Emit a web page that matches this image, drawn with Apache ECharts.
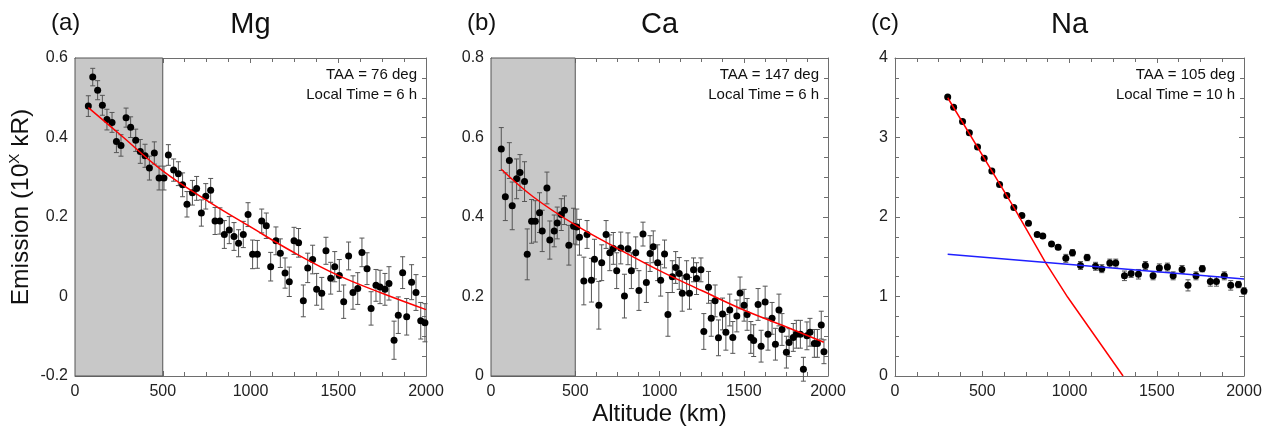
<!DOCTYPE html>
<html><head><meta charset="utf-8">
<script src="https://cdn.jsdelivr.net/npm/echarts@6/dist/echarts.min.js"></script>
<style>html,body{margin:0;padding:0;background:#fff}#c{width:1273px;height:430px}</style>
</head><body><div id="c"></div>
<script>
// ---- data ----
const xTicks = [0, 500, 1000, 1500, 2000];
// (a) Mg
const xA = [76,101,129,156,182,211,236,262,291,317,346,372,399,424,452,479,507,532,562,589,613,638,669,693,720,745,773,798,826,851,879,906,932,959,986,1012,1039,1064,1090,1115,1145,1170,1197,1221,1248,1274,1301,1326,1354,1377,1406,1430,1457,1480,1506,1531,1559,1584,1611,1635,1664,1687,1715,1738,1766,1789,1818,1842,1867,1890,1918,1943,1970,1994];
const yA = [0.479,0.552,0.519,0.481,0.445,0.438,0.390,0.380,0.450,0.426,0.393,0.365,0.354,0.323,0.361,0.298,0.298,0.356,0.318,0.309,0.281,0.232,0.261,0.272,0.210,0.252,0.267,0.190,0.190,0.156,0.167,0.151,0.134,0.156,0.206,0.106,0.106,0.190,0.178,0.075,0.140,0.109,0.059,0.037,0.140,0.135,-0.011,0.072,0.093,0.018,0.008,0.115,0.046,0.075,0.053,-0.013,0.102,0.010,0.020,0.111,0.070,-0.030,0.028,0.024,0.018,0.033,-0.110,-0.047,0.060,-0.051,0.036,0.010,-0.061,-0.066];
const eA = [0.026,0.022,0.024,0.025,0.026,0.025,0.028,0.027,0.024,0.026,0.028,0.030,0.029,0.030,0.028,0.030,0.030,0.026,0.028,0.030,0.030,0.032,0.031,0.030,0.033,0.032,0.030,0.034,0.033,0.035,0.034,0.035,0.034,0.033,0.030,0.036,0.035,0.030,0.032,0.036,0.035,0.036,0.038,0.037,0.034,0.036,0.040,0.037,0.036,0.040,0.040,0.034,0.040,0.038,0.040,0.042,0.035,0.042,0.040,0.036,0.040,0.042,0.040,0.042,0.040,0.042,0.048,0.046,0.040,0.046,0.044,0.045,0.046,0.048];
const fitAx = [76,250,500,750,1000,1250,1500,1750,2000];
const fitAy = [0.475,0.410,0.316,0.242,0.175,0.110,0.053,0.008,-0.033];
// (b) Ca
const xB = [61,85,109,126,152,172,199,215,241,263,288,304,332,349,375,393,417,436,462,490,509,525,551,570,596,614,640,657,683,705,726,746,770,792,813,833,859,878,902,922,944,963,989,1007,1030,1050,1076,1096,1117,1135,1161,1178,1202,1220,1246,1263,1291,1307,1330,1350,1374,1394,1417,1435,1459,1478,1502,1520,1542,1559,1585,1603,1627,1644,1668,1688,1709,1727,1753,1769,1794,1812,1836,1854,1875,1893,1919,1937,1960,1976];
const yB = [0.571,0.451,0.542,0.428,0.496,0.512,0.489,0.306,0.389,0.389,0.411,0.365,0.473,0.342,0.365,0.385,0.406,0.417,0.329,0.377,0.375,0.349,0.239,0.356,0.241,0.294,0.178,0.285,0.356,0.310,0.321,0.265,0.322,0.201,0.320,0.265,0.310,0.215,0.357,0.235,0.308,0.325,0.285,0.241,0.307,0.155,0.250,0.273,0.258,0.208,0.250,0.208,0.267,0.245,0.267,0.112,0.223,0.145,0.189,0.096,0.156,0.110,0.166,0.097,0.151,0.209,0.178,0.155,0.097,0.089,0.180,0.075,0.186,0.105,0.145,0.080,0.166,0.117,0.060,0.084,0.097,0.105,0.105,0.017,0.101,0.110,0.082,0.082,0.128,0.061];
const eB = [0.054,0.060,0.045,0.060,0.050,0.045,0.050,0.064,0.055,0.052,0.050,0.052,0.040,0.048,0.040,0.040,0.040,0.036,0.050,0.045,0.045,0.045,0.060,0.035,0.055,0.050,0.060,0.045,0.035,0.045,0.040,0.045,0.040,0.055,0.040,0.045,0.040,0.050,0.030,0.050,0.045,0.040,0.045,0.040,0.035,0.055,0.040,0.040,0.040,0.045,0.040,0.040,0.030,0.040,0.030,0.045,0.040,0.045,0.040,0.045,0.040,0.045,0.040,0.040,0.040,0.040,0.040,0.040,0.040,0.040,0.040,0.040,0.040,0.040,0.040,0.040,0.040,0.040,0.040,0.035,0.035,0.035,0.035,0.030,0.035,0.035,0.035,0.035,0.035,0.030];
const fitBx = [61,250,500,750,1000,1250,1500,1750,1975];
const fitBy = [0.520,0.451,0.380,0.321,0.265,0.215,0.166,0.124,0.085];
// (c) Na
const xC = [302,336,387,426,473,511,555,599,641,681,727,765,815,847,897,935,979,1017,1063,1101,1149,1185,1231,1265,1315,1353,1395,1435,1479,1515,1561,1594,1645,1679,1725,1761,1807,1842,1887,1924,1968,2000];
const yC = [3.51,3.38,3.20,3.06,2.88,2.74,2.58,2.41,2.27,2.12,2.02,1.92,1.78,1.76,1.66,1.62,1.48,1.55,1.39,1.49,1.38,1.35,1.42,1.42,1.26,1.29,1.28,1.39,1.26,1.36,1.37,1.26,1.34,1.14,1.26,1.35,1.19,1.19,1.26,1.14,1.15,1.07];
const eC = [0.02,0.02,0.02,0.02,0.02,0.02,0.02,0.02,0.02,0.02,0.02,0.02,0.02,0.02,0.02,0.03,0.05,0.04,0.05,0.04,0.05,0.05,0.05,0.05,0.06,0.05,0.06,0.05,0.05,0.05,0.05,0.05,0.05,0.07,0.05,0.04,0.06,0.06,0.05,0.06,0.04,0.04];
const fitCx = [302,681,862,990,1307];
const fitCy = [3.50,2.12,1.43,0.99,0];
const blueCx = [302,2000];
const blueCy = [1.53,1.22];

const panels = [
  {label:'(a)', title:'Mg', taa:'TAA = 76 deg', lt:'Local Time = 6 h', left:75, width:351, ymin:-0.2, ymax:0.6, yint:0.2,
   x:xA, y:yA, e:eA, fits:[{x:fitAx,y:fitAy,c:'#ff0000',smooth:0.4}], shade:true},
  {label:'(b)', title:'Ca', taa:'TAA = 147 deg', lt:'Local Time = 6 h', left:491, width:337, ymin:0, ymax:0.8, yint:0.2,
   x:xB, y:yB, e:eB, fits:[{x:fitBx,y:fitBy,c:'#ff0000',smooth:0.4}], shade:true},
  {label:'(c)', title:'Na', taa:'TAA = 105 deg', lt:'Local Time = 10 h', left:895, width:349, ymin:0, ymax:4, yint:1,
   x:xC, y:yC, e:eC, fits:[{x:fitCx,y:fitCy,c:'#ff0000',smooth:false},{x:blueCx,y:blueCy,c:'#1f1fff',smooth:false}], shade:false}
];

const FONT = "'Liberation Sans', Arial, sans-serif";
const TOP = 58, H = 318;
const frame = '#6e6e6e';
const grid = [], xAxis = [], yAxis = [], series = [], graphic = [];

function fmt(v){ return String(Math.round(v*1000)/1000); }
function tickCfg(show){ return {
  axisLine:{show:true, onZero:false, lineStyle:{color:frame, width:1}},
  axisTick:{show:true, inside:true, length:5, lineStyle:{color:frame}},
  minorTick:{show:true, splitNumber:4, length:4, lineStyle:{color:frame}},
  splitLine:{show:false}, minorSplitLine:{show:false},
  axisLabel:{show:show, color:'#222', fontSize:16, fontFamily:FONT, margin:8, formatter:fmt}
};}

function errRender(params, api){
  const x = api.value(0), lo = api.value(1), hi = api.value(2);
  const p1 = api.coord([x, lo]), p2 = api.coord([x, hi]);
  const w = 2.5, st = {stroke:'#555', lineWidth:1};
  return {type:'group', children:[
    {type:'line', shape:{x1:p1[0],y1:p1[1],x2:p2[0],y2:p2[1]}, style:st},
    {type:'line', shape:{x1:p1[0]-w,y1:p1[1],x2:p1[0]+w,y2:p1[1]}, style:st},
    {type:'line', shape:{x1:p2[0]-w,y1:p2[1],x2:p2[0]+w,y2:p2[1]}, style:st}
  ]};
}

panels.forEach((p, i) => {
  grid.push({left:p.left, top:TOP, width:p.width, height:H, containLabel:false, outerBoundsMode:'none'});
  xAxis.push(Object.assign({type:'value', gridIndex:i, min:0, max:2000, interval:500, position:'bottom'}, tickCfg(true)));
  xAxis.push(Object.assign({type:'value', gridIndex:i, min:0, max:2000, interval:500, position:'top'}, tickCfg(false)));
  const yl = Object.assign({type:'value', gridIndex:i, min:p.ymin, max:p.ymax, interval:p.yint, position:'left'}, tickCfg(true));
  yl.axisLabel.margin = 7;
  yAxis.push(yl);
  yAxis.push(Object.assign({type:'value', gridIndex:i, min:p.ymin, max:p.ymax, interval:p.yint, position:'right'}, tickCfg(false)));

  const xi = 2*i, yi = 2*i;
  const errData = p.x.map((x, k) => [x, p.y[k]-p.e[k], p.y[k]+p.e[k]]);
  const errSeries = {type:'custom', xAxisIndex:xi, yAxisIndex:yi, renderItem:errRender, data:errData, z:3, silent:true,
    encode:{x:0, y:[1,2]}};
  if (p.shade) {
    errSeries.markArea = {silent:true, z:1, itemStyle:{color:'#c8c8c8', borderColor:'#555', borderWidth:1},
      data:[[{xAxis:0},{xAxis:500}]]};
  }
  series.push(errSeries);
  series.push({type:'scatter', xAxisIndex:xi, yAxisIndex:yi, symbol:'circle', symbolSize:7,
    itemStyle:{color:'#000', opacity:1}, data:p.x.map((x,k)=>[x,p.y[k]]), z:4, silent:true});
  p.fits.forEach(f => {
    series.push({type:'line', xAxisIndex:xi, yAxisIndex:yi, showSymbol:false, smooth:f.smooth,
      lineStyle:{color:f.c, width:1.5}, data:f.x.map((x,k)=>[x,f.y[k]]), z:5, silent:true});
  });

  const right = p.left + p.width;
  graphic.push({type:'text', left:p.left - 24, top:11, style:{text:p.label, fontSize:24, fontFamily:FONT, fill:'#111'}});
  graphic.push({type:'text', x:p.left + p.width/2, y:25, style:{text:p.title, fontSize:29, fontFamily:FONT, fill:'#111', textAlign:'center', textVerticalAlign:'middle'}});
  graphic.push({type:'text', x:right - 9, y:75, z:10, style:{text:p.taa, fontSize:15, fontFamily:FONT, fill:'#111', textAlign:'right', textVerticalAlign:'middle'}});
  graphic.push({type:'text', x:right - 9, y:95, z:10, style:{text:p.lt, fontSize:15, fontFamily:FONT, fill:'#111', textAlign:'right', textVerticalAlign:'middle'}});
});
// x-axis title under the middle panel
graphic.push({type:'text', x:panels[1].left + panels[1].width/2, y:414,
  style:{text:'Altitude (km)', fontSize:24, fontFamily:FONT, fill:'#111', textAlign:'center', textVerticalAlign:'middle'}});
// y-axis title, rotated, with superscript X
graphic.push({type:'text', x:21, y:207, rotation:Math.PI/2,
  style:{text:'{t|Emission (10}{s|X}{t| kR)}', align:'center', verticalAlign:'middle', fill:'#111',
    rich:{t:{fontSize:24.5, fontFamily:FONT, fill:'#111', lineHeight:28},
          s:{fontSize:15, fontFamily:FONT, fill:'#111', verticalAlign:'top', lineHeight:28}}}});

const chart = echarts.init(document.getElementById('c'), null, {renderer:'canvas'});
chart.setOption({animation:false, backgroundColor:'#fff', grid, xAxis, yAxis, series, graphic});
</script></body></html>
